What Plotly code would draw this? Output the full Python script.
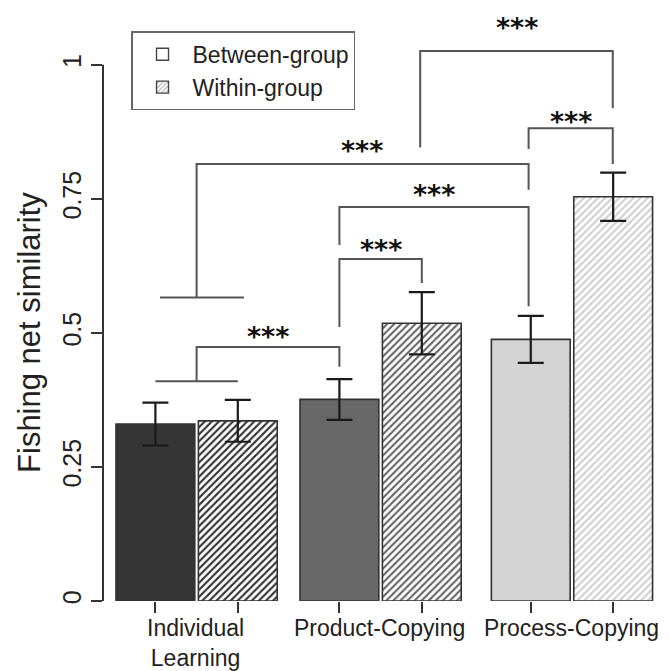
import plotly.graph_objects as go

# ---- data -------------------------------------------------------------
groups = ["Individual<br>Learning", "Product-Copying", "Process-Copying"]
between_mean = [0.330, 0.376, 0.488]
between_err = [0.040, 0.038, 0.044]
within_mean = [0.336, 0.518, 0.754]
within_err = [0.039, 0.058, 0.045]
y_ticks = [0, 0.25, 0.5, 0.75, 1]
y_tick_text = ["0", "0.25", "0.5", "0.75", "1"]
y_title = "Fishing net similarity"
legend_names = ["Between-group", "Within-group"]
sig_label = "***"

# ---- layout constants (x in bar-width units) --------------------------
group_x = [1.170, 3.470, 5.862]
half_gap = 0.515
bar_w = 0.985
x_between = [g - half_gap for g in group_x]
x_within = [g + half_gap for g in group_x]
X_RANGE = [0, 7.075]
Y_RANGE = [0, 1.121]

between_fill = ["#353535", "#686868", "#d4d4d4"]
within_hatch = ["#353535", "#686868", "#d0d0d0"]
outline = "#333333"
bracket_col = "#555555"
FONT = "Liberation Sans, Arial, Helvetica, sans-serif"

fig = go.Figure()

fig.add_trace(go.Bar(
    x=x_between, y=between_mean, width=bar_w, showlegend=False,
    marker=dict(color=between_fill, line=dict(color=outline, width=1.6)),
    error_y=dict(type="data", array=between_err, color="#1a1a1a",
                 thickness=2.2, width=13),
))
fig.add_trace(go.Bar(
    x=x_within, y=within_mean, width=bar_w, showlegend=False,
    marker=dict(color="white", line=dict(color=outline, width=1.6),
                pattern=dict(shape="/", fgcolor=within_hatch, bgcolor="white",
                             size=5, solidity=0.42, fillmode="replace")),
    error_y=dict(type="data", array=within_err, color="#1a1a1a",
                 thickness=2.2, width=13),
))

# legend keys
fig.add_trace(go.Bar(x=[None], y=[None], name=legend_names[0],
                     marker=dict(color="white", line=dict(color="#444", width=1.4))))
fig.add_trace(go.Bar(x=[None], y=[None], name=legend_names[1],
                     marker=dict(color="white", line=dict(color="#444", width=1.4),
                                 pattern=dict(shape="/", fgcolor="#777", bgcolor="white",
                                              size=4, solidity=0.4))))

# ---- significance brackets --------------------------------------------
b1, b2, b3, b4, b5, b6 = x_between[0], x_within[0], x_between[1], x_within[1], x_between[2], x_within[2]
g1 = group_x[0]
pc = 5.32  # process-copying between-group leg
brackets = [
    # individual learning lower fork -> product-copying between
    [(b1, 0.410), (b2, 0.410), None, (g1, 0.410), (g1, 0.474), (b3, 0.474), (b3, 0.437)],
    # individual learning upper fork -> process-copying between
    [(0.7125, 0.566), (1.7625, 0.566), None, (g1, 0.566), (g1, 0.815), (pc, 0.815), (pc, 0.767)],
    # product-copying between vs within
    [(b3, 0.511), (b3, 0.638), (b4, 0.638), (b4, 0.593)],
    # product-copying between vs process-copying between
    [(b3, 0.664), (b3, 0.735), (pc, 0.735), (pc, 0.550)],
    # process-copying between vs within
    [(pc, 0.843), (pc, 0.882), (b6 - 0.005, 0.882), (b6 - 0.005, 0.815)],
    # product-copying within vs process-copying within
    [(3.965, 0.846), (3.965, 1.026), (b6 - 0.005, 1.026), (b6 - 0.005, 0.919)],
]
bx, by = [], []
for br in brackets:
    for p in br:
        if p is None:
            bx.append(None); by.append(None)
        else:
            bx.append(p[0]); by.append(p[1])
    bx.append(None); by.append(None)
fig.add_trace(go.Scatter(x=bx, y=by, mode="lines", showlegend=False,
                         line=dict(color=bracket_col, width=2), hoverinfo="skip"))

star_pos = [(2.058, 0.507), (3.470, 0.668), (4.132, 0.772),
            (3.240, 0.853), (5.848, 0.908), (5.172, 1.082)]
for sx, sy in star_pos:
    fig.add_annotation(x=sx, y=sy, text=sig_label, showarrow=False,
                       xref="x", yref="y", xanchor="center", yanchor="middle",
                       yshift=-7,
                       font=dict(family="DejaVu Sans", size=27, color="#111",
                                 weight="bold"))

# ---- axes ---------------------------------------------------------------
for gx, lab in zip(group_x, groups):
    fig.add_annotation(x=gx - 0.01, y=0, xref="x", yref="paper", text=lab,
                       showarrow=False, xanchor="center", yanchor="top",
                       yshift=-12,
                       font=dict(family=FONT, size=23, color="#222"))

fig.add_annotation(x=0, y=0.5, xref="paper", yref="y", xshift=-73,
                   xanchor="center", yanchor="middle",
                   text=y_title, textangle=-90, showarrow=False,
                   font=dict(family=FONT, size=31, color="#222"))

fig.add_shape(type="line", xref="paper", yref="y", x0=0, x1=0, y0=0, y1=1,
              line=dict(color="#333", width=2))

fig.update_xaxes(range=X_RANGE, tickvals=x_between + x_within,
                 ticks="outside", ticklen=11, tickwidth=2, tickcolor="#333",
                 showticklabels=False, showgrid=False, zeroline=False,
                 showline=False, fixedrange=True)
fig.update_yaxes(range=Y_RANGE, tickvals=y_ticks, ticktext=y_tick_text,
                 ticks="outside", ticklen=11, tickwidth=2, tickcolor="#333",
                 tickangle=-90, tickfont=dict(family=FONT, size=25, color="#222"),
                 showgrid=False, zeroline=False, showline=False, fixedrange=True)

fig.update_layout(
    width=669, height=671,
    margin=dict(l=103, r=0, t=0, b=70),
    paper_bgcolor="white", plot_bgcolor="white",
    barmode="overlay",
    font=dict(family=FONT, color="#222"),
    legend=dict(x=0.0495, y=0.948, xanchor="left", yanchor="top",
                bordercolor="#666", borderwidth=1.5, bgcolor="white",
                font=dict(family=FONT, size=23, color="#222"),
                itemwidth=50, tracegroupgap=0),
)

fig.write_html("out.html")
